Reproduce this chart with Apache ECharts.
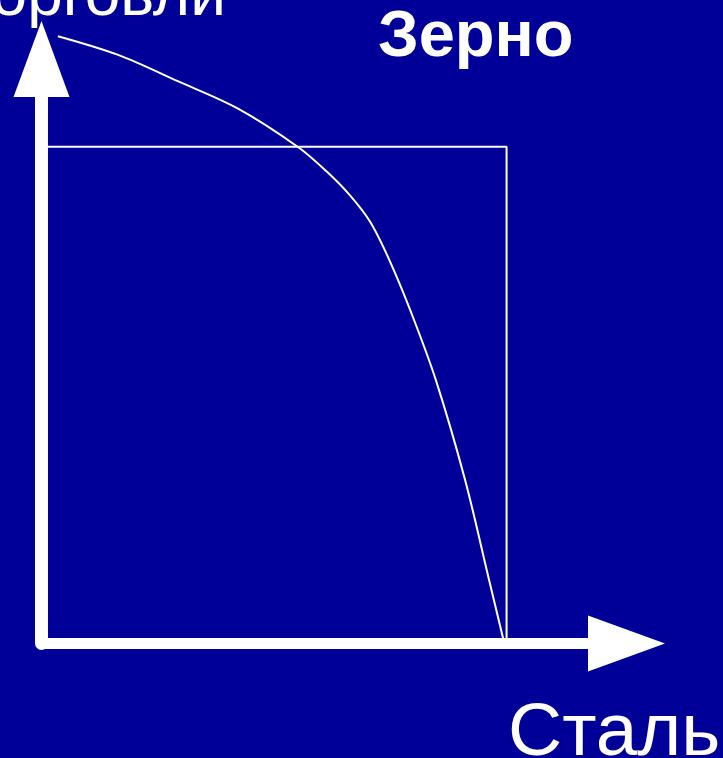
<!DOCTYPE html>
<html>
<head>
<meta charset="utf-8">
<script src="https://cdn.jsdelivr.net/npm/echarts@6/dist/echarts.min.js"></script>
<style>
  html, body { margin: 0; padding: 0; background: #000099; }
  #chart { width: 723px; height: 758px; }
</style>
</head>
<body>
<div id="chart"></div>
<script>
// кривая производственных возможностей (сталь / зерно)
const steel = [2.8, 13.1, 23.3, 33.6, 43.9, 48.8, 52.7, 56.2, 59.6, 63.2, 67.4, 72.4, 76.5, 78.9];
const grain = [103.9, 100.7, 96.2, 91.5, 84.9, 80.7, 76.7, 72.1, 65.3, 56.6, 45.1, 28.0, 10.9, 0.9];

// прямоугольник (точка потребления)
const boxSteel = [0, 79.5, 79.5];
const boxGrain = [85, 85, 0];

const xName = 'Сталь';
const yName = 'Зерно';
const topText = 'торговли';

const myChart = echarts.init(document.getElementById('chart'));

const axisCommon = {
  type: 'value',
  min: 0,
  max: 100,
  axisTick: { show: false },
  axisLabel: { show: false },
  splitLine: { show: false }
};

const option = {
  backgroundColor: '#000099',
  animation: false,
  title: [
    {
      text: topText, left: -37, top: -35, padding: 0,
      textStyle: { color: '#fff', fontSize: 64, fontWeight: 'normal', fontFamily: 'Liberation Sans' }
    },
    {
      text: yName, left: 378, top: 6, padding: 0,
      textStyle: { color: '#fff', fontSize: 65, fontWeight: 'bold', fontFamily: 'Liberation Sans' }
    },
    {
      text: xName, left: 508, top: 697, padding: 0,
      textStyle: { color: '#fff', fontSize: 75, fontWeight: 'normal', fontFamily: 'Liberation Sans' }
    }
  ],
  grid: {
    left: 41.5,
    right: 96.5,
    top: 59,
    bottom: 114.5,
    containLabel: false,
    outerBoundsMode: 'none'
  },
  xAxis: Object.assign({}, axisCommon, {
    axisLine: {
      show: true,
      symbol: ['none', 'triangle'],
      symbolSize: [56, 77],
      lineStyle: { color: '#fff', width: 11 }
    }
  }),
  yAxis: Object.assign({}, axisCommon, {
    axisLine: {
      show: true,
      symbol: ['none', 'triangle'],
      symbolSize: [56, 76],
      lineStyle: { color: '#fff', width: 13 }
    }
  }),
  series: [
    {
      type: 'line',
      data: boxSteel.map((v, i) => [v, boxGrain[i]]),
      symbol: 'none',
      lineStyle: { color: '#fff', width: 2 },
      z: 1
    },
    {
      type: 'line',
      data: steel.map((v, i) => [v, grain[i]]),
      symbol: 'none',
      smooth: 0.33,
      clip: false,
      lineStyle: { color: '#fff', width: 2 },
      z: 3
    }
  ]
};

myChart.setOption(option);
</script>
</body>
</html>
